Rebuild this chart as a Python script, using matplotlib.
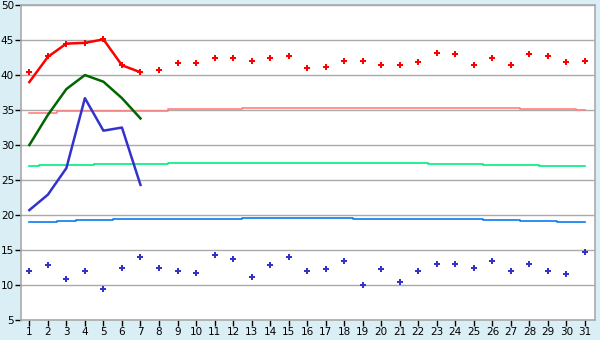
import matplotlib
matplotlib.use("Agg")
import matplotlib.pyplot as plt

days = list(range(1, 32))
line_days = days[:7]

# solid lines (first week)
red_line = [39.0, 42.6, 44.5, 44.6, 45.1, 41.4, 40.4]
green_line = [30.0, 34.3, 38.0, 40.0, 39.05, 36.7, 33.8]
blue_line = [20.7, 22.9, 26.7, 36.7, 32.05, 32.5, 24.3]

# daily points
red_pts = [40.4, 42.7, 44.5, 44.6, 45.1, 41.4, 40.4, 40.7, 41.7, 41.7,
           42.4, 42.4, 41.95, 42.4, 42.7, 40.95, 41.1, 41.95, 41.95, 41.5,
           41.5, 41.8, 43.2, 42.95, 41.4, 42.4, 41.4, 42.95, 42.7, 41.8, 41.95]
blue_pts = [12.0, 12.8, 10.9, 12.0, 9.4, 12.4, 14.0, 12.4, 12.0, 11.67,
            14.24, 13.67, 11.1, 12.8, 14.0, 12.0, 12.24, 13.4, 9.96, 12.24,
            10.4, 12.0, 12.95, 12.95, 12.4, 13.4, 12.0, 12.95, 12.0, 11.53, 14.67]

# step levels
pink_step = [34.6] * 2 + [34.9] * 6 + [35.1] * 4 + [35.25] * 15 + [35.1] * 3 + [34.95]
spring_step = [27.0] + [27.14] * 3 + [27.29] * 4 + [27.43] * 14 + [27.24] * 3 + [27.1] * 3 + [26.95] * 3
azure_step = [18.96] * 2 + [19.1] + [19.24] * 2 + [19.38] * 7 + [19.53] * 6 + [19.38] * 7 + [19.24] * 2 + [19.1] * 2 + [18.96] * 2

fig = plt.figure(figsize=(6, 3.4), dpi=100, facecolor="#DAEEF5")
ax = fig.add_axes([0.035, 0.059, 0.957, 0.926])
ax.set_facecolor("white")

ax.plot(days, pink_step, drawstyle="steps-mid", color="#FF8080", lw=1.2)
ax.plot(days, spring_step, drawstyle="steps-mid", color="#00EE80", lw=1.2)
ax.plot(days, azure_step, drawstyle="steps-mid", color="#0A7CF0", lw=1.2)

ax.plot(line_days, red_line, color="#FF0000", lw=1.8)
ax.plot(line_days, green_line, color="#006600", lw=1.8)
ax.plot(line_days, blue_line, color="#3333CC", lw=1.8)

ax.plot(days, red_pts, ls="none", marker="P", ms=4.8, color="#FF0000", mew=0)
ax.plot(days, blue_pts, ls="none", marker="P", ms=4.8, color="#3333CC", mew=0)

ax.set_xlim(0.55, 31.55)
ax.set_ylim(5, 50)
ax.set_xticks(days)
ax.set_yticks(range(5, 51, 5))
ax.grid(axis="y", color="#AAAAAA", lw=1)
ax.set_axisbelow(True)
for s in ax.spines.values():
    s.set_color("#AAAAAA")
    s.set_linewidth(1.2)
ax.tick_params(length=4, width=1, color="black", labelsize=7.5, pad=1)

fig.savefig("out.png", dpi=100, facecolor=fig.get_facecolor())
